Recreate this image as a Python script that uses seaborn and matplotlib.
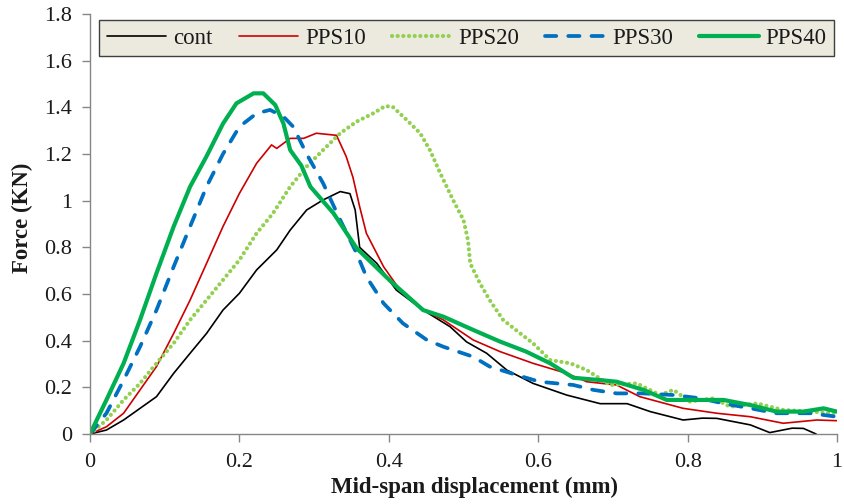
import matplotlib
matplotlib.use("Agg")
import matplotlib.pyplot as plt
import seaborn as sns
import numpy as np
import pandas as pd

# ---------------- data ----------------
cont_x = [0, 0.022, 0.045, 0.067, 0.089, 0.112, 0.134, 0.156, 0.178, 0.2, 0.223, 0.25, 0.268, 0.29,
          0.312, 0.335, 0.348, 0.355, 0.361, 0.384, 0.41, 0.446, 0.482, 0.504, 0.531, 0.558, 0.593,
          0.638, 0.683, 0.719, 0.75, 0.794, 0.82, 0.839, 0.884, 0.91, 0.94, 0.955, 0.972]
cont_y = [0, 0.017, 0.06, 0.11, 0.16, 0.26, 0.346, 0.431, 0.531, 0.603, 0.703, 0.789, 0.874, 0.96,
          1.003, 1.039, 1.03, 0.96, 0.8, 0.731, 0.617, 0.531, 0.46, 0.395, 0.346, 0.274, 0.217,
          0.167, 0.13, 0.13, 0.096, 0.06, 0.068, 0.067, 0.039, 0.006, 0.025, 0.024, 0.0]

pps10_x = [0, 0.022, 0.045, 0.067, 0.089, 0.112, 0.134, 0.156, 0.178, 0.2, 0.223, 0.243, 0.25,
           0.268, 0.286, 0.303, 0.33, 0.343, 0.352, 0.361, 0.37, 0.393, 0.415, 0.446, 0.473, 0.513,
           0.549, 0.593, 0.638, 0.665, 0.705, 0.736, 0.794, 0.839, 0.884, 0.928, 0.973, 1.0]
pps10_y = [0, 0.031, 0.089, 0.189, 0.289, 0.431, 0.574, 0.731, 0.889, 1.031, 1.16, 1.239, 1.224,
           1.267, 1.267, 1.289, 1.28, 1.189, 1.1, 0.974, 0.86, 0.717, 0.617, 0.531, 0.489, 0.403,
           0.353, 0.303, 0.26, 0.224, 0.21, 0.16, 0.11, 0.089, 0.074, 0.046, 0.06, 0.057]

pps20_x = [0, 0.022, 0.045, 0.067, 0.089, 0.112, 0.134, 0.156, 0.178, 0.2, 0.223, 0.245, 0.268,
           0.29, 0.312, 0.335, 0.357, 0.379, 0.395, 0.405, 0.424, 0.442, 0.455, 0.469, 0.486, 0.5,
           0.506, 0.509, 0.522, 0.535, 0.553, 0.576, 0.593, 0.616, 0.643, 0.665, 0.696, 0.732,
           0.763, 0.781, 0.803, 0.835, 0.857, 0.893, 0.928, 0.964, 1.0]
pps20_y = [0, 0.06, 0.146, 0.217, 0.303, 0.389, 0.489, 0.574, 0.66, 0.746, 0.86, 0.946, 1.06,
           1.146, 1.217, 1.289, 1.339, 1.374, 1.405, 1.403, 1.346, 1.289, 1.217, 1.117, 1.003,
           0.917, 0.831, 0.731, 0.646, 0.574, 0.489, 0.431, 0.389, 0.317, 0.303, 0.274, 0.21,
           0.217, 0.167, 0.189, 0.139, 0.153, 0.117, 0.131, 0.103, 0.096, 0.089]

pps30_x = [0, 0.022, 0.045, 0.067, 0.089, 0.112, 0.134, 0.156, 0.178, 0.2, 0.223, 0.241, 0.259,
           0.272, 0.29, 0.312, 0.335, 0.357, 0.37, 0.393, 0.419, 0.451, 0.473, 0.513, 0.535,
           0.571, 0.602, 0.647, 0.674, 0.705, 0.741, 0.781, 0.817, 0.848, 0.884, 0.919, 0.964, 1.0]
pps30_y = [0, 0.089, 0.231, 0.374, 0.531, 0.717, 0.889, 1.06, 1.2, 1.317, 1.374, 1.389, 1.36,
           1.317, 1.2, 1.075, 0.917, 0.774, 0.674, 0.56, 0.474, 0.403, 0.374, 0.331, 0.289,
           0.253, 0.224, 0.21, 0.189, 0.174, 0.174, 0.167, 0.153, 0.131, 0.11, 0.089, 0.089, 0.074]

pps40_x = [0, 0.022, 0.045, 0.067, 0.089, 0.112, 0.134, 0.156, 0.178, 0.196, 0.219, 0.232, 0.248,
           0.259, 0.268, 0.283, 0.295, 0.326, 0.357, 0.402, 0.446, 0.473, 0.513, 0.549, 0.584,
           0.616, 0.647, 0.683, 0.705, 0.741, 0.772, 0.848, 0.884, 0.919, 0.955, 0.982, 1.0]
pps40_y = [0, 0.146, 0.303, 0.489, 0.689, 0.889, 1.06, 1.19, 1.33, 1.417, 1.46, 1.46, 1.41,
           1.33, 1.217, 1.15, 1.06, 0.946, 0.796, 0.656, 0.531, 0.503, 0.446, 0.396, 0.353,
           0.303, 0.241, 0.231, 0.224, 0.189, 0.146, 0.146, 0.124, 0.096, 0.096, 0.11, 0.096]

labels = ["cont", "PPS10", "PPS20", "PPS30", "PPS40"]
x_ticks = [0, 0.2, 0.4, 0.6, 0.8, 1]
x_tick_labels = ["0", "0.2", "0.4", "0.6", "0.8", "1"]
y_ticks = [0, 0.2, 0.4, 0.6, 0.8, 1, 1.2, 1.4, 1.6, 1.8]
y_tick_labels = ["0", "0.2", "0.4", "0.6", "0.8", "1", "1.2", "1.4", "1.6", "1.8"]

# ---------------- style ----------------
sns.set_style("ticks")
plt.rcParams["font.family"] = ["Liberation Serif", "DejaVu Serif"]

fig = plt.figure(figsize=(8.44, 5.04), dpi=100)
ax = fig.add_axes([90 / 844, 1 - 434 / 504, 747 / 844, 420 / 504])

series = [
    (cont_x, cont_y, dict(color="#000000", lw=1.2, ls="-")),
    (pps10_x, pps10_y, dict(color="#CC0000", lw=1.2, ls="-")),
    (pps20_x, pps20_y, dict(color="#92D050", lw=3.0, ls=(0, (0.01, 1.35)), dash_capstyle="round")),
    (pps30_x, pps30_y, dict(color="#0070C0", lw=2.7, ls=(0, (3.0, 3.2)), dash_capstyle="round")),
    (pps40_x, pps40_y, dict(color="#00B050", lw=3.0, ls="-", solid_capstyle="round")),
]

for (xs, ys, st), lab in zip(series, labels):
    df = pd.DataFrame({"x": xs, "y": ys})
    sns.lineplot(data=df, x="x", y="y", ax=ax, estimator=None, sort=False,
                 label=lab, color=st["color"], linewidth=st["lw"], linestyle=st["ls"],
                 **{k: v for k, v in st.items() if k not in ("color", "lw", "ls")})

ax.set_xlim(0, 1)
ax.set_ylim(0, 1.8)
ax.set_xticks(x_ticks)
ax.set_xticklabels(x_tick_labels)
ax.set_yticks(y_ticks)
ax.set_yticklabels(y_tick_labels)

for side in ["top", "right"]:
    ax.spines[side].set_visible(False)
for side in ["left", "bottom"]:
    ax.spines[side].set_color("#868686")
    ax.spines[side].set_linewidth(1.0)

ax.tick_params(axis="both", direction="out", length=5.5, width=1.0, color="#868686",
               labelsize=16, labelcolor="#1a1a1a")
ax.tick_params(axis="y", pad=7.5)
ax.tick_params(axis="x", pad=8.5)

ax.set_xlabel("Mid-span displacement (mm)", fontsize=16.5, fontweight="bold", color="#1a1a1a")
ax.set_ylabel("Force (KN)", fontsize=16.5, fontweight="bold", color="#1a1a1a")
ax.xaxis.set_label_coords(0.515, -0.102)
ax.yaxis.set_label_coords(-0.076, 0.515)

leg = ax.legend(loc="upper left", bbox_to_anchor=(9 / 747, (434 - 20) / 420, 735 / 747, 0.0),
                mode="expand", ncol=5, frameon=True, fancybox=False, fontsize=16.5,
                handlelength=2.6, handletextpad=0.3, borderpad=0.33, columnspacing=0.6,
                borderaxespad=0)
for t in leg.get_texts():
    t.set_color("#1a1a1a")
frame = leg.get_frame()
frame.set_facecolor("#ECE9DF")
frame.set_edgecolor("#404040")
frame.set_linewidth(1.0)
frame.set_alpha(1)

fig.savefig("out.png", dpi=100)
